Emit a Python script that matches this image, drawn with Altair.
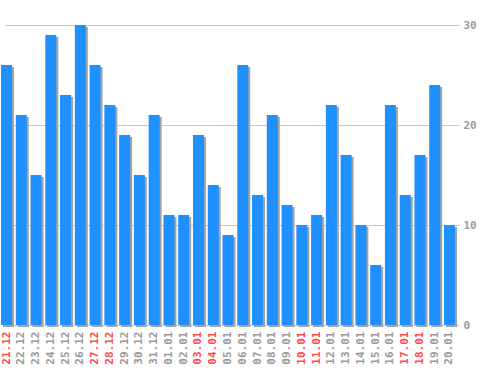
import altair as alt
import pandas as pd

dates = ["21.12", "22.12", "23.12", "24.12", "25.12", "26.12", "27.12", "28.12",
         "29.12", "30.12", "31.12", "01.01", "02.01", "03.01", "04.01", "05.01",
         "06.01", "07.01", "08.01", "09.01", "10.01", "11.01", "12.01", "13.01",
         "14.01", "15.01", "16.01", "17.01", "18.01", "19.01", "20.01"]
values = [26, 21, 15, 29, 23, 30, 26, 22, 19, 15, 21, 11, 11, 19, 14, 9,
          26, 13, 21, 12, 10, 11, 22, 17, 10, 6, 22, 13, 17, 24, 10]
weekend = ["21.12", "27.12", "28.12", "03.01", "04.01", "10.01", "11.01", "17.01", "18.01"]

df = pd.DataFrame({"date": dates, "value": values})

wk_list = "[" + ",".join("'" + w + "'" for w in weekend) + "]"

x = alt.X("date:N", sort=None, title=None,
          scale=alt.Scale(paddingInner=0.255, paddingOuter=0, range=[0, 454]),
          axis=alt.Axis(labelAngle=-90, domain=False, ticks=False, labelPadding=6,
                        labelFont="DejaVu Sans Mono", labelFontWeight="bold",
                        labelFontSize=11, labelBaseline="middle", labelAlign="right",
                        labelColor={"expr": f"indexof({wk_list}, datum.value) >= 0 ? '#ff4d4d' : '#9a9a9a'"}))
y = alt.Y("value:Q", title=None,
          scale=alt.Scale(domain=[0, 30], nice=False),
          axis=alt.Axis(orient="right", values=[0, 10, 20, 30], grid=True, gridColor="#c8c8c8",
                        domain=False, ticks=False, labelPadding=4,
                        labelFont="DejaVu Sans Mono", labelFontWeight="bold",
                        labelFontSize=11, labelColor="#9a9a9a"))

base = alt.Chart(df)
shadow = base.mark_bar(color="#a3a3a3", xOffset=2, yOffset=2).encode(x=x, y=y)
bars = base.mark_bar(color="#1e90ff").encode(x=x, y=y)

chart = alt.layer(shadow, bars).properties(
    width=458, height=300, background="white",
    padding={"top": 19, "left": 0, "right": 5, "bottom": 5},
).configure_view(stroke=None)

chart.save("out.html", embed_options={"renderer": "svg", "actions": False})
